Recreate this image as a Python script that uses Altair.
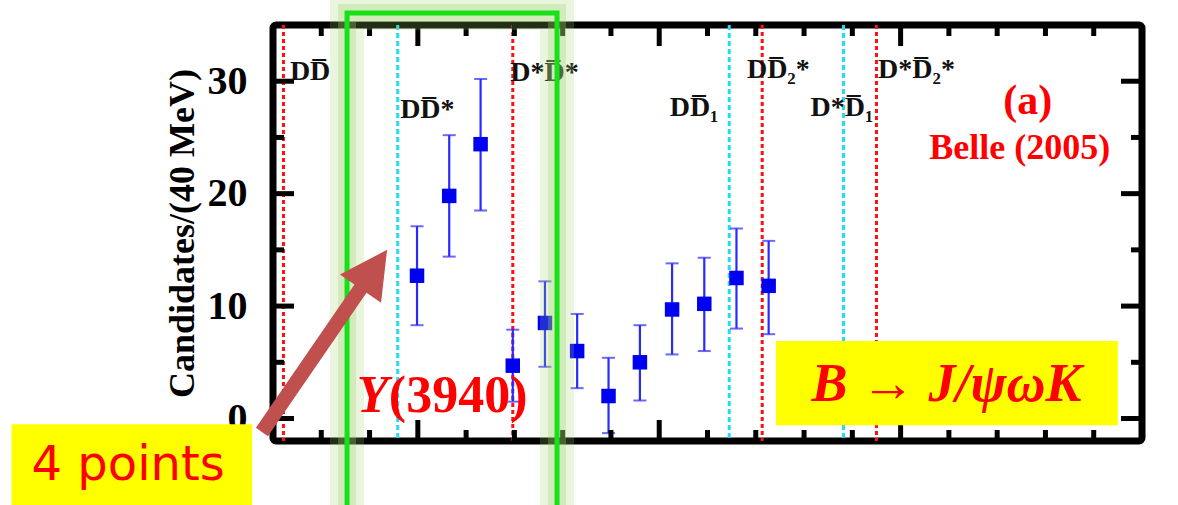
import altair as alt
import pandas as pd

# ---- data ----
mass = [3899, 3939, 3978, 4018, 4058, 4098, 4137, 4176, 4216, 4256, 4296, 4336]
counts = [12.7, 19.8, 24.4, 4.7, 8.5, 6.0, 2.0, 5.0, 9.7, 10.2, 12.5, 11.8]
err_hi = [17.1, 25.2, 30.2, 7.9, 12.2, 9.3, 5.4, 8.3, 13.8, 14.3, 16.9, 15.8]
err_lo = [8.3, 14.4, 18.5, 1.5, 4.6, 2.7, -1.3, 1.6, 5.7, 6.0, 8.0, 7.5]

thr_red = [3733, 4018, 4328, 4470]
thr_cyan = [3875, 4287, 4429]

thr_labels = ["DD\u0305", "DD\u0305*", "D*D\u0305*", "DD\u0305\u2081", "DD\u0305\u2082*", "D*D\u0305\u2081", "D*D\u0305\u2082*"]
thr_label_x = [3741, 3878, 4015, 4213, 4309, 4388, 4472]
thr_label_y = [30.8, 27.4, 30.7, 27.6, 31.0, 27.6, 31.0]

x_major = [3900, 4200, 4500]
x_minor = [3780, 3840, 3960, 4020, 4080, 4140, 4260, 4320, 4380, 4440, 4560, 4620, 4680, 4740]
y_major = [0, 10, 20, 30]
y_minor = [5, 15, 25]
x_tick_labels = [3900, 4200, 4500, 4800]

# annotation anchors (data units)
green_box = dict(x=[3812], x2=[4073], y=[36.07], y2=[-9.5])
yellow_boxes = dict(x=[3395, 4345], x2=[3694, 4770], y=[-0.5, 6.9], y2=[-8.0, -0.6])
arrow = dict(x=[3784], y=[6.9])

W, H = 869, 416
XMIN, XMAX = 3720, 4800
YMIN, YMAX = -2, 35
xs = alt.Scale(domain=[XMIN, XMAX], nice=False, zero=False)
ys = alt.Scale(domain=[YMIN, YMAX], nice=False, zero=False)
SERIF = "Liberation Serif"

df = pd.DataFrame({"m": mass, "c": counts, "lo": err_lo, "hi": err_hi})

# threshold lines
red_lines = alt.Chart(pd.DataFrame({"m": thr_red})).mark_rule(
    color="#ff1010", strokeWidth=3, strokeDash=[4, 3]
).encode(x=alt.X("m:Q", scale=xs, axis=None))
cyan_lines = alt.Chart(pd.DataFrame({"m": thr_cyan})).mark_rule(
    color="#22dcf4", strokeWidth=3, strokeDash=[5, 3]
).encode(x=alt.X("m:Q", scale=xs, axis=None))

# main axes layer (invisible points carrying axes)
axes_layer = alt.Chart(df).mark_point(opacity=0).encode(
    x=alt.X("m:Q", scale=xs, axis=alt.Axis(
        values=x_tick_labels, title=None, ticks=False, tickSize=0, domain=False, grid=False,
        labelFont=SERIF, labelFontWeight="bold", labelFontSize=40, labelColor="black",
        labelPadding=18, labelFlush=False, labelOverlap=False, format="d")),
    y=alt.Y("c:Q", scale=ys, axis=alt.Axis(
        values=y_major, title="Candidates/(40 MeV)", ticks=False, tickSize=0, domain=False, grid=False,
        labelFont=SERIF, labelFontWeight="bold", labelFontSize=40, labelColor="black",
        labelPadding=26, labelFlush=False, titleFont=SERIF, titleFontWeight="bold",
        titleFontSize=36, titleColor="black", titlePadding=6)),
)

bars = alt.Chart(df).mark_rule(color="#2a2aff", strokeWidth=2.2).encode(
    x=alt.X("m:Q", scale=xs), y=alt.Y("lo:Q", scale=ys), y2="hi:Q")
cap_hi = alt.Chart(df).mark_tick(color="#2a2aff", orient="horizontal", size=13, thickness=2).encode(
    x=alt.X("m:Q", scale=xs), y=alt.Y("hi:Q", scale=ys))
cap_lo = alt.Chart(df).mark_tick(color="#2a2aff", orient="horizontal", size=13, thickness=2).encode(
    x=alt.X("m:Q", scale=xs), y=alt.Y("lo:Q", scale=ys))
squares = alt.Chart(df).mark_square(color="#0000f0", size=210, opacity=1).encode(
    x=alt.X("m:Q", scale=xs), y=alt.Y("c:Q", scale=ys))

def xticks(vals, length):
    d = pd.DataFrame({"v": vals})
    bottom = alt.Chart(d).mark_rule(color="black", strokeWidth=5).encode(
        x=alt.X("v:Q", scale=xs), y=alt.value(H), y2=alt.value(H - length))
    top = alt.Chart(d).mark_rule(color="black", strokeWidth=5).encode(
        x=alt.X("v:Q", scale=xs), y=alt.value(0), y2=alt.value(length))
    return [bottom, top]

def yticks(vals, length):
    d = pd.DataFrame({"v": vals})
    left = alt.Chart(d).mark_rule(color="black", strokeWidth=5).encode(
        y=alt.Y("v:Q", scale=ys), x=alt.value(0), x2=alt.value(length))
    right = alt.Chart(d).mark_rule(color="black", strokeWidth=5).encode(
        y=alt.Y("v:Q", scale=ys), x=alt.value(W), x2=alt.value(W - length))
    return [left, right]

ticks = xticks(x_major, 21) + xticks(x_minor, 11) + yticks(y_major, 21) + yticks(y_minor, 11)

thr_text = alt.Chart(pd.DataFrame({"x": thr_label_x, "y": thr_label_y, "t": thr_labels})).mark_text(
    font=SERIF, fontWeight="bold", fontSize=28, color="#111111", align="left", baseline="middle"
).encode(x=alt.X("x:Q", scale=xs), y=alt.Y("y:Q", scale=ys), text="t:N")

gb = pd.DataFrame(green_box)
glow1 = alt.Chart(gb).mark_rect(fillOpacity=0, stroke="#9fd36a", strokeWidth=34, strokeOpacity=0.22).encode(
    x=alt.X("x:Q", scale=xs), x2="x2:Q", y=alt.Y("y:Q", scale=ys), y2="y2:Q")
glow2 = alt.Chart(gb).mark_rect(fillOpacity=0, stroke="#9fd36a", strokeWidth=18, strokeOpacity=0.3).encode(
    x=alt.X("x:Q", scale=xs), x2="x2:Q", y=alt.Y("y:Q", scale=ys), y2="y2:Q")
gline = alt.Chart(gb).mark_rect(fillOpacity=0, stroke="#18e018", strokeWidth=5).encode(
    x=alt.X("x:Q", scale=xs), x2="x2:Q", y=alt.Y("y:Q", scale=ys), y2="y2:Q")

ybox = alt.Chart(pd.DataFrame(yellow_boxes)).mark_rect(color="#ffff00").encode(
    x=alt.X("x:Q", scale=xs), x2="x2:Q", y=alt.Y("y:Q", scale=ys), y2="y2:Q")

ARROW_PATH = "M0,-1 L0.226,-0.575 L0.066,-0.575 L0.066,1 L-0.066,1 L-0.066,-0.575 L-0.226,-0.575 Z"
arrow_mark = alt.Chart(pd.DataFrame(arrow)).mark_point(
    shape=ARROW_PATH, filled=True, color="#c0504d", opacity=1, size=221 * 221, angle=34.5, strokeWidth=0
).encode(x=alt.X("x:Q", scale=xs), y=alt.Y("y:Q", scale=ys))

def label(x, y, text, size, align="center", style="normal", font=SERIF, weight="bold", color="#ff0000"):
    return alt.Chart(pd.DataFrame({"x": [x], "y": [y], "t": [text]})).mark_text(
        font=font, fontWeight=weight, fontStyle=style, fontSize=size, color=color,
        align=align, baseline="middle"
    ).encode(x=alt.X("x:Q", scale=xs), y=alt.Y("y:Q", scale=ys), text="t:N")

texts = [
    label(4658, 28.2, "(a)", 42),
    label(4648, 24.1, "Belle (2005)", 36),
    label(3824, 2.0, "Y", 52, align="left", style="italic"),
    label(3864, 2.0, "(3940)", 52, align="left"),
    label(4557, 3.0, "B \u2192 J/\u03c8\u03c9K", 54, style="italic"),
    label(3540, -4.2, "4 points", 48, font="DejaVu Sans", weight="normal"),
]

chart = alt.layer(
    red_lines, cyan_lines, axes_layer, bars, cap_hi, cap_lo, squares, *ticks, thr_text,
    glow1, glow2, gline, ybox, *texts, arrow_mark
).properties(
    width=W, height=H,
    padding={"left": 273, "top": 25, "right": 36, "bottom": 64},
    autosize=alt.AutoSizeParams(type="none"),
    background="white",
).configure_view(stroke="black", strokeWidth=7, cornerRadius=3)

chart.save("out.html", embed_options={"renderer": "svg", "actions": False})
